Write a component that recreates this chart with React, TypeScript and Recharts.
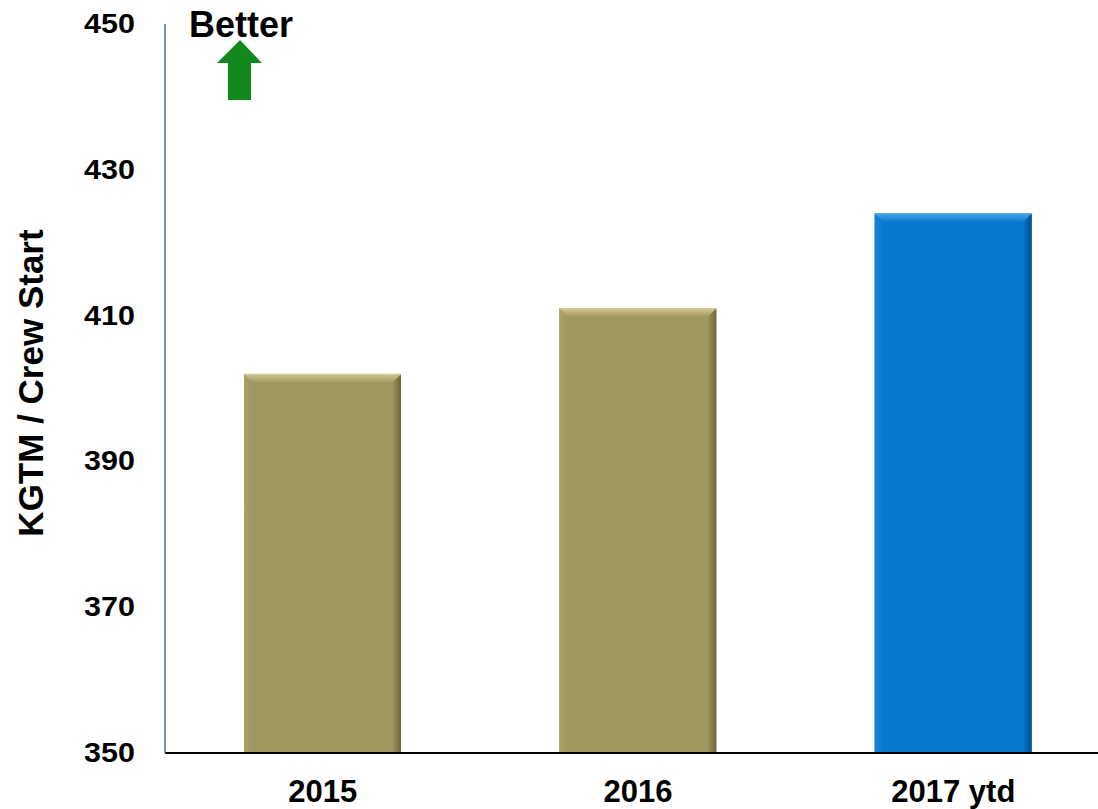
import React from "react";
import { BarChart, Bar, XAxis, YAxis } from "recharts";

const categories = ["2015", "2016", "2017 ytd"];
const kgtmPerCrewStart = [402, 411, 424];
const yTicks = [350, 370, 390, 410, 430, 450];

const data = categories.map((c, i) => ({ year: c, value: kgtmPerCrewStart[i] }));

const FONT = "Arial, 'Liberation Sans', sans-serif";

// main / top bevel / left side / right side
const PALETTE = [
  { main: "#A09660", top: "#D2C991", left: "#ABA268", right: "#6E6638" },
  { main: "#A09660", top: "#D2C991", left: "#ABA268", right: "#6E6638" },
  { main: "#0878CE", top: "#46A4E8", left: "#1583D6", right: "#04508F" },
];

function BevelBar(props: any) {
  const { x, y, width: w, height: h, index } = props;
  if (!h || h <= 0) return null;
  const c = PALETTE[index] ?? PALETTE[0];
  const b = 9;
  return (
    <g>
      <rect x={x} y={y} width={w} height={h} fill={c.main} />
      <polygon
        points={`${x},${y} ${x + b},${y + b} ${x + b},${y + h} ${x},${y + h}`}
        fill={`url(#left${index})`}
      />
      <polygon
        points={`${x + w},${y} ${x + w - b},${y + b} ${x + w - b},${y + h} ${x + w},${y + h}`}
        fill={`url(#right${index})`}
      />
      <polygon
        points={`${x},${y} ${x + w},${y} ${x + w - b},${y + b} ${x + b},${y + b}`}
        fill={`url(#top${index})`}
      />
      <line x1={x} y1={y + 0.5} x2={x + w} y2={y + 0.5} stroke={c.top} strokeOpacity={0.8} />
    </g>
  );
}

function YTick({ x, y, payload }: any) {
  return (
    <g transform={`translate(${x},${y}) scale(1.13,1)`}>
      <text textAnchor="end" dy="0.33em" fontSize={27} fontWeight="bold" fontFamily={FONT} fill="#000">
        {payload.value}
      </text>
    </g>
  );
}

function XTick({ x, y, payload }: any) {
  return (
    <text x={x} y={y + 49} textAnchor="middle" fontSize={31} fontWeight="bold" fontFamily={FONT} fill="#000">
      {payload.value}
    </text>
  );
}

export default function App() {
  return (
    <div style={{ position: "absolute", left: 0, top: 0, width: 1098, height: 809, overflow: "hidden", background: "#fff" }}>
      <BarChart width={1111} height={809} data={data} margin={{ top: 24, right: 0, left: 0, bottom: 0 }} barSize={157}>
        <defs>
          {PALETTE.map((c, i) => (
            <React.Fragment key={i}>
              <linearGradient id={`left${i}`} x1="0" y1="0" x2="1" y2="0">
                <stop offset="0%" stopColor={c.left} />
                <stop offset="100%" stopColor={c.main} />
              </linearGradient>
              <linearGradient id={`right${i}`} x1="0" y1="0" x2="1" y2="0">
                <stop offset="0%" stopColor={c.main} />
                <stop offset="100%" stopColor={c.right} />
              </linearGradient>
              <linearGradient id={`top${i}`} x1="0" y1="0" x2="0" y2="1">
                <stop offset="0%" stopColor={c.top} />
                <stop offset="100%" stopColor={c.main} />
              </linearGradient>
            </React.Fragment>
          ))}
        </defs>
        <XAxis
          dataKey="year"
          height={56}
          tickLine={false}
          tickSize={0}
          tickMargin={0}
          tick={<XTick />}
          axisLine={{ stroke: "#000", strokeWidth: 2 }}
          interval={0}
        />
        <YAxis
          width={165}
          domain={[350, 450]}
          ticks={yTicks}
          tickLine={false}
          tickSize={0}
          tickMargin={30}
          tick={<YTick />}
          axisLine={{ stroke: "#4A6C9E", strokeWidth: 1.5 }}
          allowDataOverflow
        />
        <Bar dataKey="value" shape={<BevelBar />} isAnimationActive={false} />
      </BarChart>
      <svg width={1098} height={809} style={{ position: "absolute", left: 0, top: 0, pointerEvents: "none" }}>
        <text
          transform="translate(43,383) rotate(-90)"
          textAnchor="middle"
          fontSize={35}
          fontWeight="bold"
          fontFamily={FONT}
          fill="#000"
        >
          KGTM / Crew Start
        </text>
        <text x={241} y={37} textAnchor="middle" fontSize={36} fontWeight="bold" fontFamily={FONT} fill="#000">
          Better
        </text>
        <polygon points="240,40 262,63 251,63 251,100 228,100 228,63 217,63" fill="#12891E" />
      </svg>
    </div>
  );
}
